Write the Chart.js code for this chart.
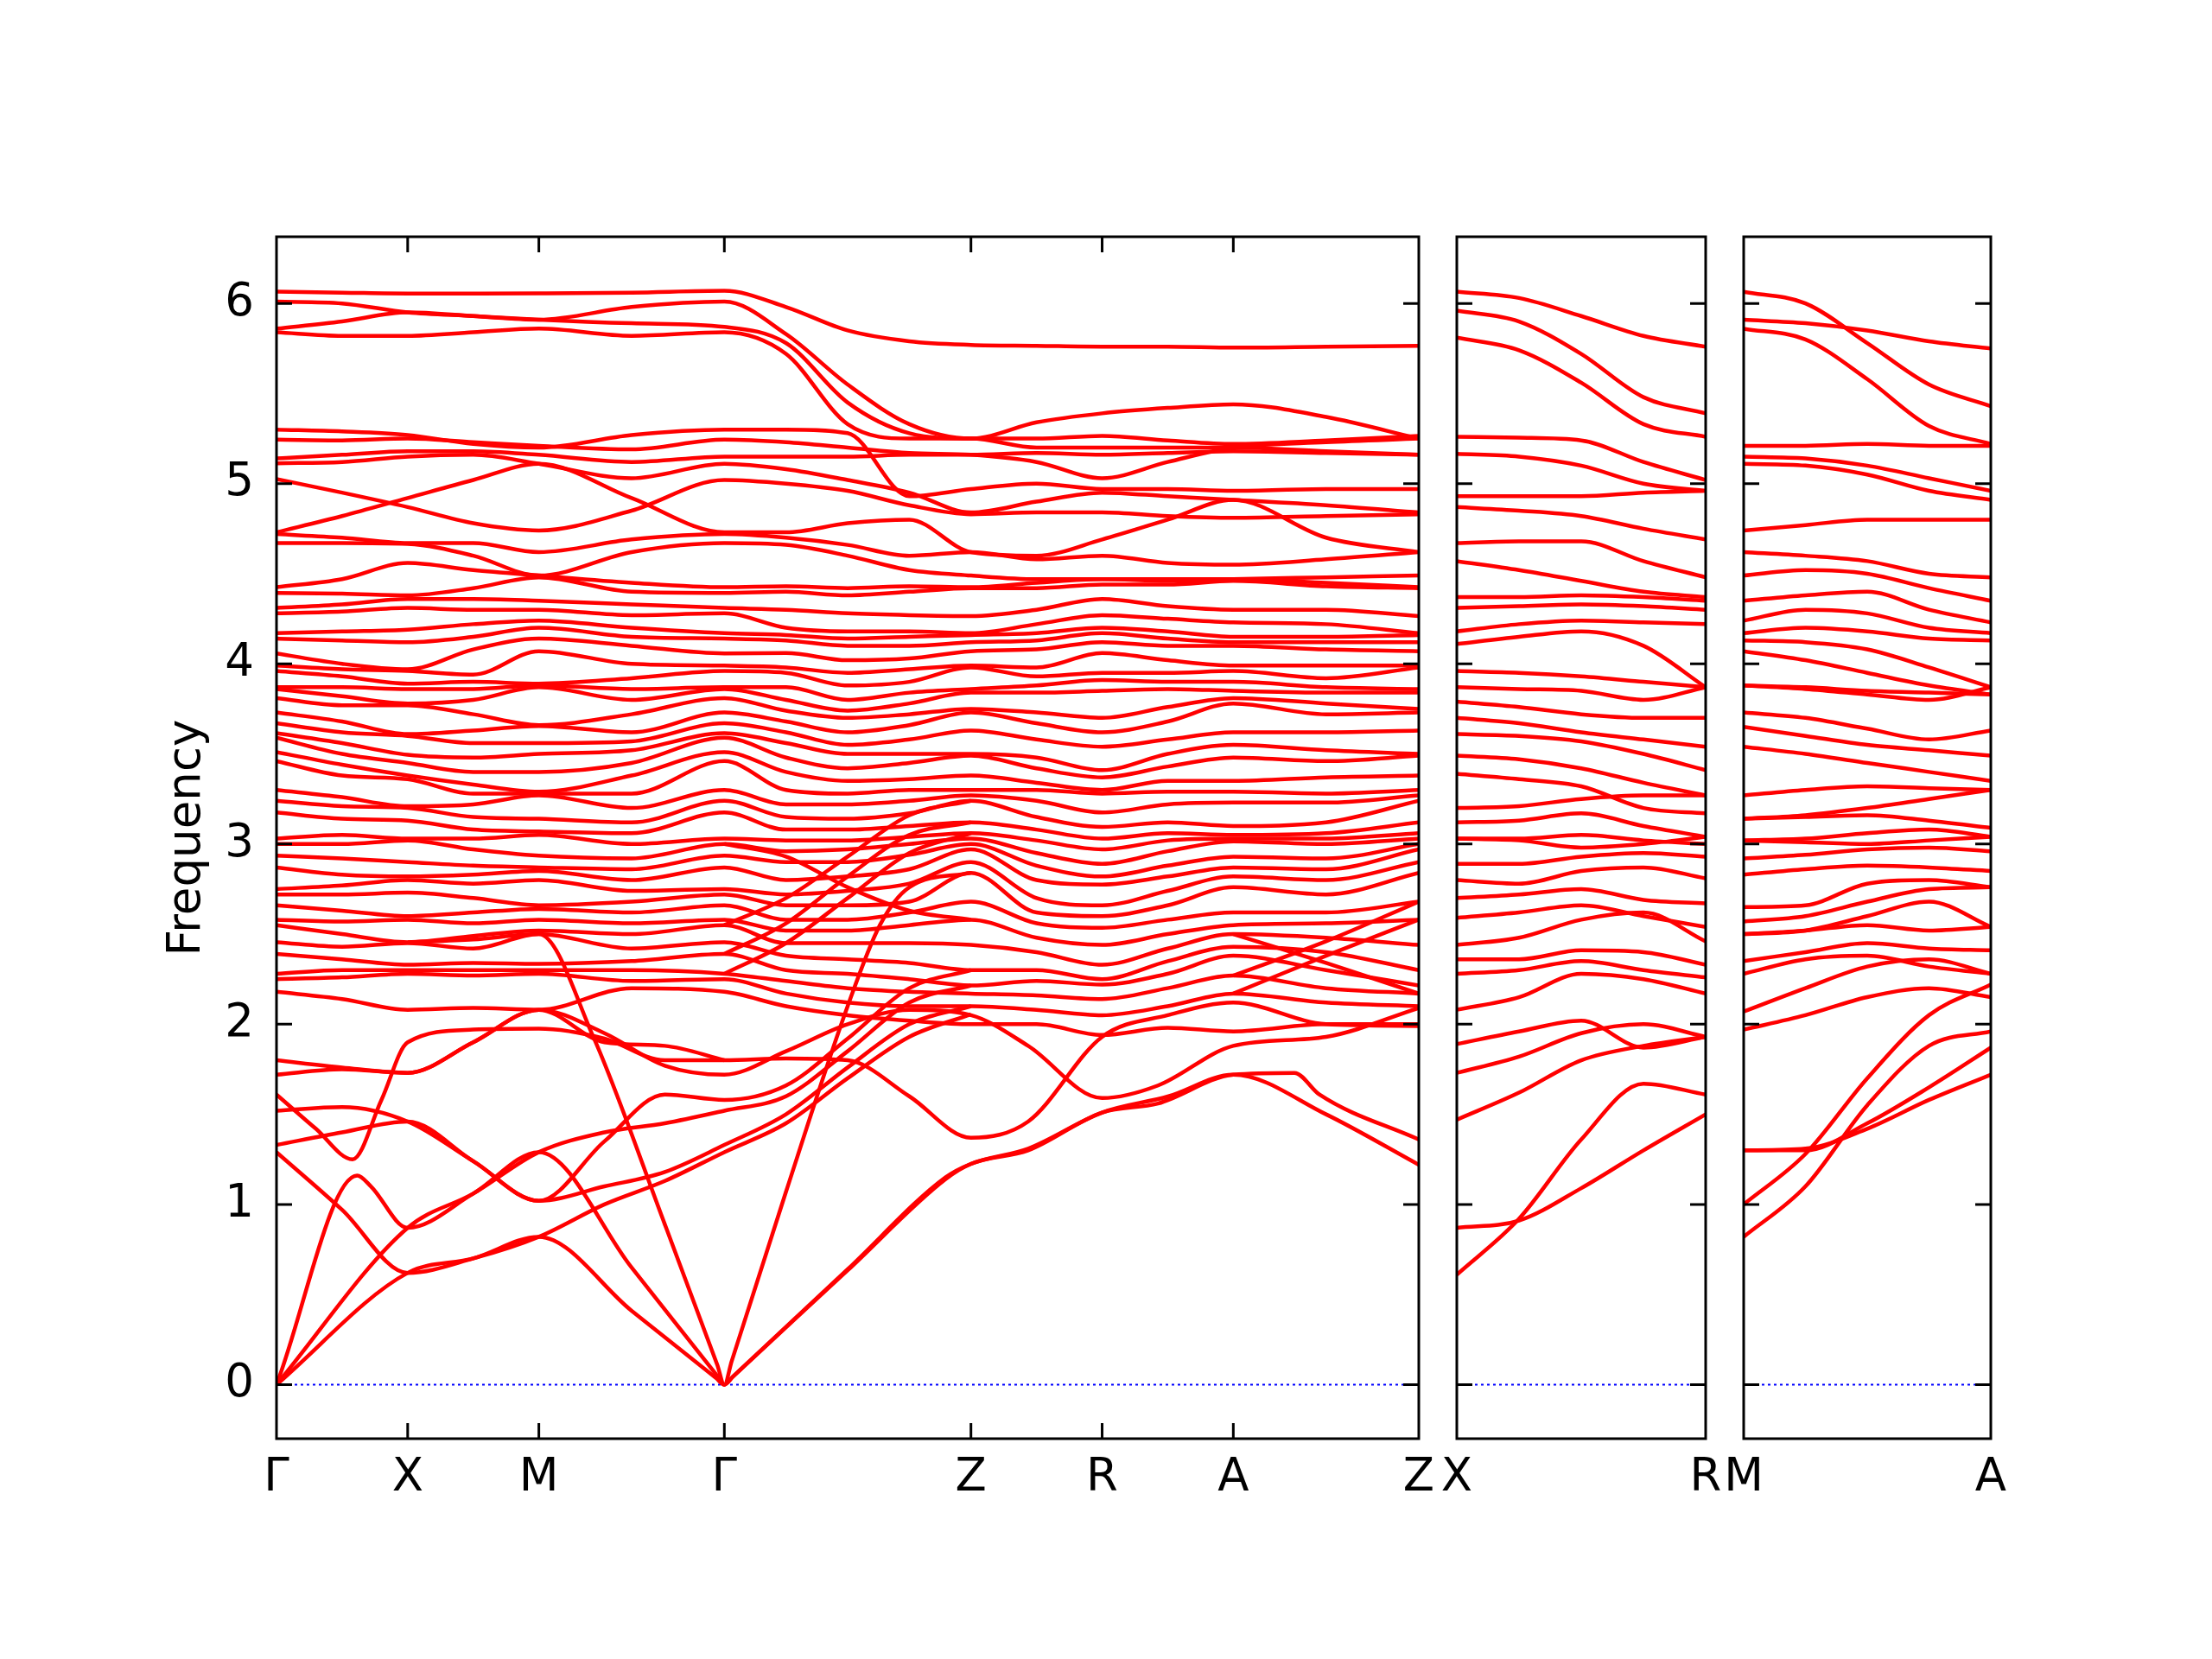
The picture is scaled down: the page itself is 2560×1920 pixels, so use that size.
<!DOCTYPE html>
<html>
<head>
<meta charset="utf-8">
<script src="https://cdn.jsdelivr.net/npm/chart.js@4.4.1/dist/chart.umd.min.js"></script>
<style>
  html, body { margin: 0; padding: 0; background: #fff; }
  #fig { position: relative; width: 2560px; height: 1920px; background: #fff; overflow: hidden; }
  #fig canvas { position: absolute; top: 0; }
</style>
</head>
<body>
<div id="fig">
  <canvas id="mainChart" width="1680" height="1920" style="left:0px"></canvas>
  <canvas id="xrChart" width="340" height="1920" style="left:1660px"></canvas>
  <canvas id="maChart" width="330" height="1920" style="left:2000px"></canvas>
</div>
<script>
// Phonon band structure: Γ-X-M-Γ-Z-R-A-Z | X-R | M-A

// q-path positions (main panel) and labels
const kMain = [0, 0.5, 1, 1.5, 2, 2.707, 3.414, 3.884, 4.354, 4.824, 5.294, 5.794, 6.294, 6.794, 7.294, 8.001, 8.708];
const mainTickPos = [0, 1, 2, 3.414, 5.294, 6.294, 7.294, 8.708];
const mainTickLabels = ['Γ', 'X', 'M', 'Γ', 'Z', 'R', 'A', 'Z'];
const kSide = [0, 0.47, 0.94, 1.41, 1.88];
const xrLabels = ['X', 'R'];
const maLabels = ['M', 'A'];
const yTickValues = [0, 1, 2, 3, 4, 5, 6];

// top bands (values at kMain)
const bandTop1 = [6.065, 6.06, 6.055, 6.055, 6.056, 6.06, 6.07, 5.98, 5.85, 5.79, 5.77, 5.765, 5.76, 5.76, 5.755, 5.76, 5.765];
const bandTop2 = [6.01, 6.0, 5.95, 5.93, 5.91, 5.98, 6.01, 5.83, 5.55, 5.33, 5.25, 5.34, 5.39, 5.42, 5.44, 5.37, 5.25];
const bandTop3 = [5.86, 5.9, 5.95, 5.93, 5.91, 5.89, 5.87, 5.78, 5.45, 5.28, 5.25, 5.25, 5.265, 5.24, 5.22, 5.24, 5.265];
const bandTop4 = [5.84, 5.82, 5.82, 5.84, 5.86, 5.82, 5.84, 5.72, 5.33, 5.25, 5.25, 5.20, 5.20, 5.20, 5.20, 5.18, 5.16];

// upper bands 4.4 - 5.3
const bandUp1 = [5.30, 5.29, 5.27, 5.22, 5.20, 5.27, 5.30, 5.30, 5.28, 4.93, 4.97, 5.00, 4.97, 4.97, 4.96, 4.97, 4.97];
const bandUp2 = [5.244, 5.24, 5.25, 5.23, 5.21, 5.19, 5.244, 5.23, 5.20, 5.17, 5.16, 5.12, 5.03, 5.12, 5.20, 5.23, 5.25];
const bandUp3 = [5.14, 5.16, 5.18, 5.18, 5.16, 5.12, 5.15, 5.15, 5.15, 5.16, 5.16, 5.17, 5.16, 5.17, 5.18, 5.17, 5.16];
const bandUp4 = [5.113, 5.12, 5.15, 5.16, 5.11, 5.03, 5.11, 5.08, 5.02, 4.95, 4.84, 4.90, 4.95, 4.93, 4.91, 4.88, 4.84];
const bandUp5 = [5.025, 4.95, 4.87, 4.78, 4.74, 4.85, 5.02, 5.0, 4.96, 4.88, 4.83, 4.84, 4.84, 4.82, 4.81, 4.82, 4.83];
const bandUp6 = [4.73, 4.82, 4.92, 5.02, 5.11, 4.92, 4.73, 4.73, 4.78, 4.80, 4.62, 4.60, 4.69, 4.80, 4.91, 4.70, 4.62];
const bandUp7 = [4.72, 4.70, 4.67, 4.67, 4.62, 4.69, 4.72, 4.70, 4.66, 4.60, 4.62, 4.58, 4.60, 4.56, 4.55, 4.58, 4.62];
const bandUp8 = [4.67, 4.67, 4.665, 4.60, 4.49, 4.62, 4.67, 4.66, 4.60, 4.52, 4.49, 4.47, 4.47, 4.46, 4.47, 4.48, 4.49];

// middle bands 2.0 - 4.45: frequencies at each sampled q-point (band i = i-th value)
const midAtGamma = [4.425, 4.393, 4.31, 4.28, 4.17, 4.14, 4.058, 3.99, 3.96, 3.87, 3.86, 3.81, 3.73, 3.67, 3.615, 3.59, 3.51, 3.46, 3.30, 3.24, 3.175, 3.03, 3.0, 2.935, 2.87, 2.75, 2.72, 2.66, 2.58, 2.55, 2.455, 2.39, 2.28, 2.25, 2.18];
const midGX = [4.47, 4.39, 4.33, 4.29, 4.18, 4.13, 4.0, 3.97, 3.93, 3.87, 3.82, 3.77, 3.68, 3.62, 3.56, 3.50, 3.44, 3.38, 3.26, 3.21, 3.14, 3.05, 3.0, 2.92, 2.83, 2.77, 2.72, 2.63, 2.57, 2.50, 2.43, 2.36, 2.30, 2.26, 2.14];
const midAtX = [4.56, 4.38, 4.36, 4.31, 4.19, 4.12, 3.97, 3.96, 3.89, 3.86, 3.78, 3.77, 3.61, 3.60, 3.495, 3.45, 3.38, 3.36, 3.21, 3.20, 3.13, 3.03, 3.02, 2.90, 2.82, 2.80, 2.73, 2.60, 2.58, 2.455, 2.45, 2.33, 2.30, 2.28, 2.08];
const midXM = [4.52, 4.42, 4.36, 4.30, 4.22, 4.15, 4.08, 3.94, 3.90, 3.86, 3.80, 3.72, 3.63, 3.56, 3.48, 3.40, 3.33, 3.28, 3.22, 3.15, 3.08, 3.03, 2.97, 2.88, 2.83, 2.78, 2.70, 2.62, 2.56, 2.49, 2.42, 2.34, 2.30, 2.27, 2.09];
const midAtM = [4.49, 4.48, 4.35, 4.30, 4.24, 4.20, 4.14, 4.07, 3.89, 3.88, 3.87, 3.66, 3.655, 3.56, 3.50, 3.40, 3.29, 3.28, 3.27, 3.14, 3.07, 3.05, 2.935, 2.87, 2.85, 2.80, 2.66, 2.64, 2.58, 2.52, 2.50, 2.335, 2.30, 2.28, 2.08];
const midMG = [4.45, 4.40, 4.33, 4.27, 4.20, 4.15, 4.10, 4.0, 3.92, 3.86, 3.80, 3.72, 3.62, 3.57, 3.52, 3.45, 3.38, 3.28, 3.20, 3.12, 3.06, 3.0, 2.92, 2.86, 2.80, 2.74, 2.68, 2.62, 2.56, 2.50, 2.42, 2.35, 2.30, 2.24, 2.20];
const midGZ1 = [4.43, 4.40, 4.30, 4.20, 4.16, 4.13, 4.06, 3.98, 3.95, 3.87, 3.80, 3.74, 3.68, 3.62, 3.56, 3.48, 3.40, 3.30, 3.22, 3.15, 3.08, 3.02, 2.96, 2.90, 2.80, 2.72, 2.66, 2.58, 2.52, 2.45, 2.38, 2.30, 2.24, 2.17, 2.10];
const midGZ2 = [4.42, 4.38, 4.28, 4.18, 4.14, 4.10, 4.02, 3.95, 3.88, 3.80, 3.74, 3.70, 3.62, 3.55, 3.50, 3.42, 3.35, 3.28, 3.22, 3.14, 3.08, 3.02, 2.97, 2.90, 2.82, 2.74, 2.66, 2.58, 2.52, 2.45, 2.36, 2.28, 2.20, 2.12, 2.05];
const midGZ3 = [4.43, 4.40, 4.27, 4.18, 4.15, 4.10, 4.03, 3.97, 3.90, 3.84, 3.78, 3.72, 3.66, 3.58, 3.50, 3.45, 3.36, 3.30, 3.24, 3.17, 3.10, 3.04, 3.0, 2.94, 2.86, 2.78, 2.68, 2.62, 2.55, 2.45, 2.34, 2.25, 2.18, 2.10, 2.02];
const midAtZ = [4.425, 4.42, 4.265, 4.17, 4.16, 4.12, 4.07, 3.99, 3.98, 3.86, 3.84, 3.75, 3.73, 3.63, 3.50, 3.49, 3.38, 3.30, 3.27, 3.24, 3.12, 3.06, 3.03, 3.0, 2.97, 2.90, 2.84, 2.68, 2.58, 2.44, 2.30, 2.215, 2.17, 2.10, 2.0];
const midZR = [4.45, 4.42, 4.30, 4.22, 4.17, 4.13, 4.08, 3.98, 3.93, 3.88, 3.84, 3.73, 3.67, 3.58, 3.48, 3.42, 3.34, 3.30, 3.24, 3.15, 3.08, 3.02, 2.95, 2.88, 2.80, 2.70, 2.62, 2.56, 2.48, 2.40, 2.30, 2.24, 2.16, 2.08, 2.0];
const midAtR = [4.47, 4.44, 4.36, 4.27, 4.20, 4.17, 4.12, 4.06, 3.95, 3.91, 3.85, 3.70, 3.62, 3.54, 3.41, 3.37, 3.30, 3.28, 3.175, 3.095, 3.03, 2.97, 2.89, 2.82, 2.775, 2.66, 2.60, 2.535, 2.44, 2.33, 2.25, 2.22, 2.14, 2.05, 1.94];
const midRA = [4.47, 4.44, 4.32, 4.25, 4.18, 4.14, 4.10, 4.02, 3.95, 3.90, 3.86, 3.76, 3.68, 3.58, 3.50, 3.43, 3.35, 3.29, 3.22, 3.12, 3.06, 3.02, 2.96, 2.88, 2.82, 2.74, 2.66, 2.58, 2.50, 2.42, 2.35, 2.28, 2.20, 2.10, 1.98];
const midAtA = [4.47, 4.46, 4.30, 4.23, 4.15, 4.12, 4.10, 3.99, 3.96, 3.90, 3.85, 3.81, 3.78, 3.62, 3.55, 3.48, 3.35, 3.29, 3.23, 3.10, 3.05, 3.03, 3.015, 2.93, 2.87, 2.82, 2.76, 2.62, 2.55, 2.50, 2.43, 2.38, 2.27, 2.17, 1.96];
const midAZ = [4.45, 4.43, 4.30, 4.22, 4.15, 4.12, 4.08, 3.99, 3.92, 3.87, 3.84, 3.78, 3.72, 3.62, 3.52, 3.46, 3.37, 3.28, 3.23, 3.12, 3.06, 3.03, 3.0, 2.92, 2.86, 2.80, 2.72, 2.62, 2.56, 2.48, 2.40, 2.30, 2.20, 2.12, 2.0];

// branches that cut across the middle bundle: [q, frequency]
const crossGZ1 = [[3.414, 2.28], [3.884, 2.45], [4.354, 2.70], [4.824, 2.95], [5.294, 3.06]];
const crossGZ2 = [[3.414, 2.39], [3.884, 2.56], [4.354, 2.82], [4.824, 3.05], [5.294, 3.12]];
const crossGZ3 = [[3.414, 2.55], [3.884, 2.70], [4.354, 2.93], [4.824, 3.16], [5.294, 3.24]];
const crossGZ4 = [[3.414, 3.0], [3.884, 2.93], [4.354, 2.76], [4.824, 2.63], [5.294, 2.58]];
const crossAZ1 = [[7.294, 2.17], [8.001, 2.38], [8.708, 2.58]];
const crossAZ2 = [[7.294, 2.27], [8.001, 2.46], [8.708, 2.68]];
const crossAZ3 = [[7.294, 2.50], [8.001, 2.34], [8.708, 2.17]];

// low bands and acoustic branches: [q, frequency]
const acousticA = [[0, 0], [1, 0.62], [1.5, 0.70], [2, 0.82], [2.707, 0.41], [3.35, 0.037], [3.414, 0], [3.48, 0.045], [4.354, 0.634], [5.1, 1.14], [5.294, 1.225], [5.73, 1.30], [6.294, 1.51], [6.72, 1.56], [7.294, 1.72], [7.76, 1.73], [7.95, 1.61], [8.708, 1.36]];
const acousticB = [[0, 0], [1, 0.87], [1.5, 1.06], [2, 1.29], [2.707, 0.65], [3.35, 0.058], [3.414, 0], [3.48, 0.045], [4.354, 0.64], [5.1, 1.15], [5.294, 1.225], [5.73, 1.31], [6.294, 1.51], [6.8, 1.60], [7.294, 1.72], [8.001, 1.50], [8.708, 1.22]];
const acousticC = [[0, 0], [0.615, 1.16], [0.72, 1.10], [1, 0.87], [1.5, 1.06], [2, 1.29], [2.5, 1.40], [2.96, 1.45], [3.414, 1.52], [3.884, 1.60], [4.354, 1.85], [4.824, 2.12], [5.294, 2.215]];
const acousticD = [[1, 2.455], [1.5, 2.47], [2, 2.5], [2.415, 1.93], [2.96, 0.89], [3.36, 0.11], [3.414, 0], [3.47, 0.13], [3.884, 1.07], [4.354, 2.10], [4.6, 2.55], [4.824, 2.76], [5.294, 2.84]];
const low1 = [[0, 1.29], [0.5, 0.97], [1, 0.62], [1.5, 0.70], [2, 0.82], [2.5, 1.0], [2.96, 1.13], [3.414, 1.29], [3.884, 1.45], [4.354, 1.70], [4.824, 1.93], [5.294, 2.055]];
const low2 = [[0, 1.33], [0.5, 1.40], [1, 1.46], [1.5, 1.24], [2, 1.02], [2.5, 1.10], [2.96, 1.18], [3.414, 1.33], [3.884, 1.50], [4.354, 1.76], [4.824, 2.0], [5.294, 2.10]];
const low3 = [[0, 1.52], [0.5, 1.54], [1, 1.46], [1.5, 1.24], [2, 1.02], [2.5, 1.35], [2.96, 1.61], [3.414, 1.58], [3.884, 1.66], [4.354, 1.92], [4.824, 2.2], [5.294, 2.30]];
const low4 = [[0, 1.61], [0.3, 1.42], [0.58, 1.25], [0.8, 1.58], [1, 1.90], [1.5, 1.97], [2, 1.975], [2.5, 1.92], [2.96, 1.80], [3.414, 1.80], [3.884, 1.81], [4.354, 1.80], [4.824, 1.60], [5.294, 1.37], [5.73, 1.46], [6.294, 1.93], [6.794, 2.05], [7.294, 2.12], [8.001, 2.0], [8.708, 1.99]];
const low5 = [[0, 1.72], [0.5, 1.75], [1, 1.73], [1.5, 1.90], [2, 2.08], [2.5, 1.95], [2.96, 1.77], [3.414, 1.72], [3.884, 1.85], [4.354, 2.0], [4.824, 2.08], [5.294, 2.05], [5.73, 1.88], [6.294, 1.59], [6.72, 1.66], [7.294, 1.88], [8.001, 1.93], [8.708, 2.09]];
const low6 = [[0, 1.80], [0.5, 1.76], [1, 1.73], [1.5, 1.90], [2, 2.08], [2.5, 1.90], [2.96, 1.88], [3.414, 1.80]];

// X-R panel bands (values at kSide)
const xrBands = [
  [6.065, 6.03, 5.93, 5.82, 5.76], [5.96, 5.90, 5.72, 5.48, 5.39], [5.81, 5.74, 5.56, 5.33, 5.26],
  [5.26, 5.255, 5.24, 5.12, 5.02], [5.165, 5.15, 5.10, 5.00, 4.96], [4.93, 4.93, 4.93, 4.95, 4.96],
  [4.87, 4.85, 4.82, 4.75, 4.69], [4.67, 4.68, 4.68, 4.57, 4.48], [4.57, 4.52, 4.46, 4.40, 4.37],
  [4.37, 4.37, 4.38, 4.37, 4.35], [4.31, 4.32, 4.33, 4.32, 4.30], [4.18, 4.22, 4.24, 4.23, 4.22],
  [4.11, 4.15, 4.18, 4.10, 3.87], [3.96, 3.95, 3.93, 3.90, 3.87], [3.87, 3.86, 3.85, 3.80, 3.87],
  [3.79, 3.76, 3.72, 3.70, 3.70], [3.70, 3.67, 3.62, 3.58, 3.54], [3.61, 3.60, 3.57, 3.50, 3.41],
  [3.49, 3.47, 3.42, 3.34, 3.27], [3.39, 3.36, 3.32, 3.20, 3.17], [3.20, 3.21, 3.25, 3.27, 3.27],
  [3.12, 3.13, 3.17, 3.10, 3.04], [3.03, 3.03, 3.05, 3.02, 3.00], [3.03, 3.02, 2.98, 3.00, 3.04],
  [2.89, 2.89, 2.93, 2.95, 2.93], [2.80, 2.78, 2.85, 2.87, 2.81], [2.70, 2.72, 2.75, 2.69, 2.67],
  [2.59, 2.62, 2.66, 2.60, 2.54], [2.44, 2.48, 2.58, 2.62, 2.46], [2.36, 2.36, 2.41, 2.40, 2.33],
  [2.28, 2.30, 2.35, 2.30, 2.26], [2.08, 2.15, 2.28, 2.25, 2.17], [1.89, 1.96, 2.02, 1.87, 1.93],
  [1.73, 1.82, 1.95, 2.00, 1.93], [1.47, 1.62, 1.80, 1.88, 1.93], [0.87, 0.91, 1.09, 1.30, 1.50],
  [0.61, 0.92, 1.36, 1.67, 1.61]
];

// M-A panel bands (values at kSide)
const maBands = [
  [6.065, 6.0, 5.78, 5.55, 5.43], [5.91, 5.89, 5.85, 5.79, 5.75], [5.86, 5.80, 5.58, 5.32, 5.22],
  [5.21, 5.21, 5.22, 5.21, 5.21], [5.15, 5.14, 5.10, 5.03, 4.96], [5.11, 5.10, 5.05, 4.96, 4.91],
  [4.74, 4.77, 4.80, 4.80, 4.80], [4.62, 4.60, 4.57, 4.50, 4.48], [4.49, 4.52, 4.50, 4.42, 4.35],
  [4.35, 4.38, 4.40, 4.30, 4.23], [4.24, 4.30, 4.28, 4.20, 4.17], [4.17, 4.20, 4.18, 4.14, 4.13],
  [4.13, 4.12, 4.08, 3.98, 3.87], [4.07, 4.02, 3.95, 3.88, 3.83], [3.88, 3.87, 3.85, 3.84, 3.83],
  [3.88, 3.86, 3.83, 3.80, 3.87], [3.73, 3.70, 3.64, 3.58, 3.63], [3.65, 3.60, 3.55, 3.52, 3.49],
  [3.54, 3.50, 3.45, 3.40, 3.35], [3.27, 3.30, 3.32, 3.31, 3.30], [3.14, 3.16, 3.20, 3.25, 3.30],
  [3.14, 3.15, 3.16, 3.13, 3.09], [3.02, 3.03, 3.06, 3.08, 3.04], [3.02, 3.01, 3.0, 3.02, 3.04],
  [2.92, 2.94, 2.97, 2.98, 2.96], [2.83, 2.86, 2.88, 2.87, 2.85], [2.65, 2.66, 2.78, 2.80, 2.76],
  [2.57, 2.60, 2.68, 2.75, 2.76], [2.50, 2.52, 2.60, 2.68, 2.54], [2.50, 2.52, 2.55, 2.52, 2.54],
  [2.35, 2.40, 2.45, 2.42, 2.41], [2.28, 2.36, 2.38, 2.32, 2.28], [2.07, 2.20, 2.32, 2.36, 2.28],
  [1.97, 2.05, 2.15, 2.20, 2.15], [1.30, 1.30, 1.45, 1.65, 1.87], [1.30, 1.31, 1.42, 1.58, 1.72],
  [1.00, 1.28, 1.70, 2.05, 2.22], [0.82, 1.10, 1.55, 1.88, 1.96]
];

// ---- layout (pixels) ----
const PLOT_TOP = 274;
const PLOT_BOTTOM = 1665;
const FIG_H = 1920;
const XAXIS_H = 120;
const Y_MIN = -0.3;
const Y_MAX = 6.37;
const FONT = { family: 'DejaVu Sans', size: 53 };

function lineSet(points) {
  return {
    data: points,
    borderColor: '#ff0000',
    borderWidth: 4.5,
    pointRadius: 0,
    fill: false,
    cubicInterpolationMode: 'monotone'
  };
}

function zeroLine(xMax) {
  return {
    data: [{ x: 0, y: 0 }, { x: xMax, y: 0 }],
    borderColor: '#0000ff',
    borderWidth: 2,
    borderDash: [3, 4],
    pointRadius: 0,
    fill: false
  };
}

function onGrid(k, vals) {
  return k.map((x, i) => ({ x: x, y: vals[i] }));
}

function fromPairs(pairs) {
  return pairs.map(p => ({ x: p[0], y: p[1] }));
}

// frame and inward ticks, like matplotlib
const framePlugin = {
  id: 'frame',
  afterDatasetsDraw(chart, args, opts) {
    const { ctx, chartArea: a, scales } = chart;
    const len = 18;
    ctx.save();
    ctx.strokeStyle = '#000';
    ctx.lineWidth = 3;
    ctx.beginPath();
    opts.yTicks.forEach(v => {
      const y = scales.y.getPixelForValue(v);
      ctx.moveTo(a.left, y); ctx.lineTo(a.left + len, y);
      ctx.moveTo(a.right, y); ctx.lineTo(a.right - len, y);
    });
    opts.xTicks.forEach(v => {
      const x = scales.x.getPixelForValue(v);
      ctx.moveTo(x, a.bottom); ctx.lineTo(x, a.bottom - len);
      ctx.moveTo(x, a.top); ctx.lineTo(x, a.top + len);
    });
    ctx.stroke();
    ctx.strokeRect(a.left, a.top, a.right - a.left, a.bottom - a.top);
    ctx.restore();
  }
};

function makeOptions(cfg) {
  return {
    responsive: false,
    animation: false,
    events: [],
    layout: {
      padding: { left: cfg.padLeft, right: cfg.padRight, top: PLOT_TOP, bottom: FIG_H - PLOT_BOTTOM - XAXIS_H }
    },
    plugins: {
      legend: { display: false },
      tooltip: { enabled: false },
      frame: { xTicks: cfg.innerTicks, yTicks: yTickValues }
    },
    scales: {
      x: {
        type: 'linear',
        min: 0,
        max: cfg.xMax,
        afterBuildTicks: s => { s.ticks = cfg.tickPos.map(v => ({ value: v })); },
        afterFit: s => { s.height = XAXIS_H; s.paddingLeft = 0; s.paddingRight = 0; },
        grid: { display: false },
        border: { display: false },
        ticks: {
          autoSkip: false, maxRotation: 0, minRotation: 0, padding: 6,
          color: '#000', font: FONT,
          callback: (v, i) => cfg.tickLabels[i]
        }
      },
      y: {
        type: 'linear',
        min: Y_MIN,
        max: Y_MAX,
        display: cfg.showY,
        afterBuildTicks: s => { s.ticks = yTickValues.map(v => ({ value: v })); },
        afterFit: s => { s.width = cfg.yWidth; s.paddingTop = 0; s.paddingBottom = 0; },
        grid: { display: false },
        border: { display: false },
        ticks: { padding: 18, color: '#000', font: FONT, callback: v => String(v) },
        title: {
          display: cfg.showY, text: 'Frequency', color: '#000', font: FONT,
          padding: { top: 185, bottom: 0 }
        }
      }
    }
  };
}

// ---- main panel ----
const midColumns = [midAtGamma, midGX, midAtX, midXM, midAtM, midMG, midAtGamma, midGZ1, midGZ2, midGZ3, midAtZ, midZR, midAtR, midRA, midAtA, midAZ, midAtZ];
const mainSets = [];
[bandTop1, bandTop2, bandTop3, bandTop4, bandUp1, bandUp2, bandUp3, bandUp4, bandUp5, bandUp6, bandUp7, bandUp8]
  .forEach(vals => mainSets.push(lineSet(onGrid(kMain, vals))));
for (let i = 0; i < midAtGamma.length; i++) {
  mainSets.push(lineSet(kMain.map((x, j) => ({ x: x, y: midColumns[j][i] }))));
}
[crossGZ1, crossGZ2, crossGZ3, crossGZ4, crossAZ1, crossAZ2, crossAZ3,
 acousticA, acousticB, acousticC, acousticD, low1, low2, low3, low4, low5, low6]
  .forEach(pairs => mainSets.push(lineSet(fromPairs(pairs))));
mainSets.push(zeroLine(8.708));

new Chart(document.getElementById('mainChart'), {
  type: 'line',
  data: { datasets: mainSets },
  options: makeOptions({
    padLeft: 0, padRight: 38, xMax: 8.708, yWidth: 320, showY: true,
    tickPos: mainTickPos, tickLabels: mainTickLabels,
    innerTicks: [1, 2, 3.414, 5.294, 6.294, 7.294]
  }),
  plugins: [framePlugin]
});

// ---- X-R panel ----
const xrSets = xrBands.map(vals => lineSet(onGrid(kSide, vals)));
xrSets.push(zeroLine(1.88));
new Chart(document.getElementById('xrChart'), {
  type: 'line',
  data: { datasets: xrSets },
  options: makeOptions({
    padLeft: 26, padRight: 26, xMax: 1.88, yWidth: 0, showY: false,
    tickPos: [0, 1.88], tickLabels: xrLabels, innerTicks: []
  }),
  plugins: [framePlugin]
});

// ---- M-A panel ----
const maSets = maBands.map(vals => lineSet(onGrid(kSide, vals)));
maSets.push(zeroLine(1.88));
new Chart(document.getElementById('maChart'), {
  type: 'line',
  data: { datasets: maSets },
  options: makeOptions({
    padLeft: 18, padRight: 26, xMax: 1.88, yWidth: 0, showY: false,
    tickPos: [0, 1.88], tickLabels: maLabels, innerTicks: []
  }),
  plugins: [framePlugin]
});
</script>
</body>
</html>
